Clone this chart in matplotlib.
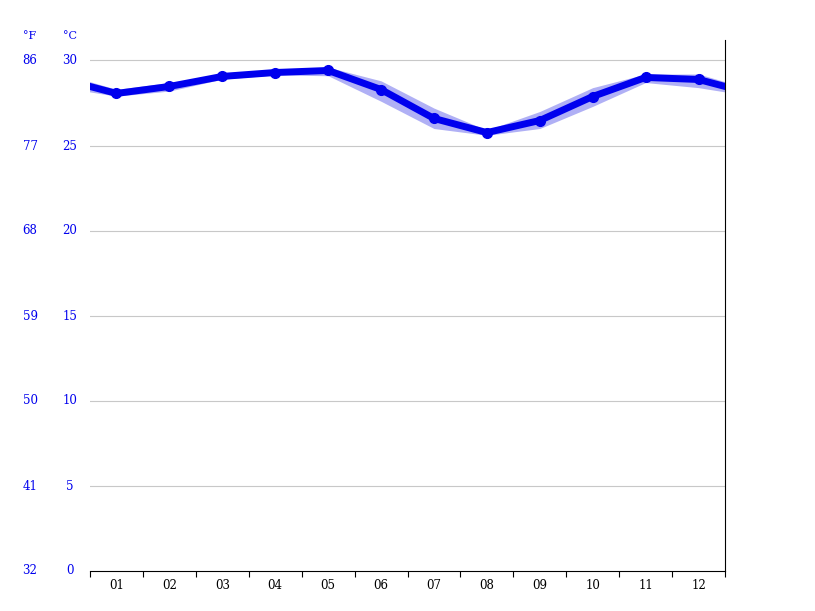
import numpy as np
import matplotlib
matplotlib.use("Agg")
import matplotlib.pyplot as plt

months = ["01", "02", "03", "04", "05", "06", "07", "08", "09", "10", "11", "12"]
temp_mean = [28.06, 28.47, 29.06, 29.29, 29.41, 28.29, 26.59, 25.76, 26.47, 27.88, 29.0, 28.88]
temp_low = [27.9, 28.2, 28.9, 29.15, 29.1, 27.6, 26.0, 25.6, 26.0, 27.3, 28.7, 28.4]
temp_high = [28.3, 28.7, 29.15, 29.4, 29.6, 28.8, 27.2, 25.9, 27.0, 28.4, 29.2, 29.2]
c_ticks = [0, 5, 10, 15, 20, 25, 30]
f_ticks = [32, 41, 50, 59, 68, 77, 86]

W, H = 815, 611
fig = plt.figure(figsize=(W / 100, H / 100), dpi=100)
ax = fig.add_axes([90 / W, 1 - 571 / H, 635 / W, 531 / H])

x = np.arange(12) + 0.5
# wrap the line around the year edges
xe = np.concatenate([[-0.5], x, [12.5]])
me = np.concatenate([[temp_mean[-1]], temp_mean, [temp_mean[0]]])
lo = np.concatenate([[temp_low[-1]], temp_low, [temp_low[0]]])
hi = np.concatenate([[temp_high[-1]], temp_high, [temp_high[0]]])

ax.fill_between(xe, lo, hi, color="#b0b0f5", lw=0, zorder=2)
ax.plot(xe, me, color="#0000ee", lw=5, solid_capstyle="round", zorder=3)
ax.plot(x, temp_mean, "o", color="#0000ee", ms=7, zorder=4)

ax.set_xlim(0, 12)
ax.set_ylim(0, 31.2)
for c in c_ticks[1:]:
    ax.axhline(c, color="#c8c8c8", lw=0.8, zorder=1)

for s in ["top", "left"]:
    ax.spines[s].set_visible(False)
ax.spines["right"].set_color("black")
ax.spines["bottom"].set_color("black")

ax.set_xticks(np.arange(13), minor=False)
ax.set_xticklabels([])
ax.set_xticks(x, minor=True)
ax.set_xticklabels(months, minor=True, fontsize=8.5, family="DejaVu Serif")
ax.tick_params(axis="x", which="major", length=4, color="black")
ax.tick_params(axis="x", which="minor", length=0, pad=6)
ax.set_yticks([])

for c, f in zip(c_ticks, f_ticks):
    yp = 1 - (571 - c * 17) / H
    fig.text(70 / W, yp, str(c), color="#0000ee", fontsize=8.5, family="DejaVu Serif", ha="center", va="center")
    fig.text(30 / W, yp, str(f), color="#0000ee", fontsize=8.5, family="DejaVu Serif", ha="center", va="center")
fig.text(70 / W, 1 - 36 / H, "°C", color="#0000ee", fontsize=8, family="DejaVu Serif", ha="center", va="center")
fig.text(30 / W, 1 - 36 / H, "°F", color="#0000ee", fontsize=8, family="DejaVu Serif", ha="center", va="center")

fig.savefig("out.png", dpi=100)
